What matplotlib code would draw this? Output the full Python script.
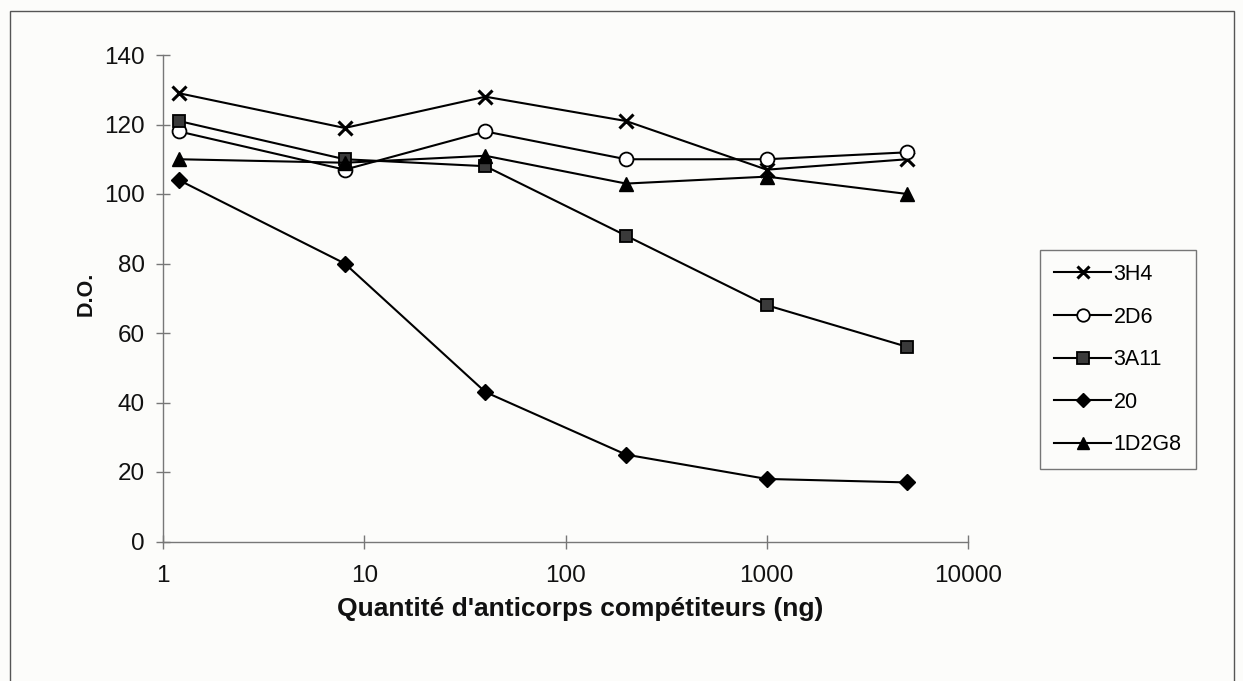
import matplotlib
matplotlib.use("Agg")
import matplotlib.pyplot as plt
from matplotlib.patches import Rectangle
from matplotlib.ticker import FixedLocator, FixedFormatter, NullLocator

plt.rcParams['font.family'] = ['Liberation Sans', 'DejaVu Sans']

quantities = [1.2, 8, 40, 200, 1000, 5000]
series_names = ["3H4", "2D6", "3A11", "20", "1D2G8"]
s_3H4 = [129, 119, 128, 121, 107, 110]
s_2D6 = [118, 107, 118, 110, 110, 112]
s_3A11 = [121, 110, 108, 88, 68, 56]
s_20 = [104, 80, 43, 25, 18, 17]
s_1D2G8 = [110, 109, 111, 103, 105, 100]
y_ticks = [0, 20, 40, 60, 80, 100, 120, 140]
x_ticks = [1, 10, 100, 1000, 10000]
x_tick_labels = ["1", "10", "100", "1000", "10000"]

W, H = 1243, 681
fig = plt.figure(figsize=(W / 100, H / 100), dpi=100)
fig.patch.set_facecolor('#fcfcfa')

# outer frame (bottom edge is cropped off in the reference)
fig.patches.append(Rectangle((10 / W, -0.05), (1234 - 10) / W, (H - 11) / H + 0.05,
                             transform=fig.transFigure, fill=False,
                             edgecolor='#555555', lw=1.0))

ax = fig.add_axes([163 / W, (H - 541.5) / H, (968 - 163) / W, (541.5 - 55) / H])
ax.set_facecolor('none')

styles = {
    "3H4": dict(marker='x', ms=10, mew=2.2, mfc='black', mec='black'),
    "2D6": dict(marker='o', ms=10, mew=1.3, mfc='white', mec='black'),
    "3A11": dict(marker='s', ms=9, mew=1.3, mfc='#3a3a3a', mec='black'),
    "20": dict(marker='D', ms=8, mew=1.0, mfc='black', mec='black'),
    "1D2G8": dict(marker='^', ms=10, mew=1.0, mfc='black', mec='black'),
}
data = [s_3H4, s_2D6, s_3A11, s_20, s_1D2G8]
for name, vals in zip(series_names, data):
    ax.plot(quantities, vals, color='black', lw=1.5, label=name, **styles[name])

ax.set_xscale('log')
ax.set_xlim(1, 10000)
ax.set_ylim(0, 140)
ax.xaxis.set_major_locator(FixedLocator(x_ticks))
ax.xaxis.set_major_formatter(FixedFormatter(x_tick_labels))
ax.xaxis.set_minor_locator(NullLocator())
ax.set_yticks(y_ticks)
ax.set_yticklabels([str(v) for v in y_ticks])

for side in ['top', 'right']:
    ax.spines[side].set_visible(False)
for side in ['left', 'bottom']:
    ax.spines[side].set_color('#777777')
    ax.spines[side].set_linewidth(1.0)
ax.tick_params(axis='both', direction='inout', length=10, width=1.0, color='#777777',
               labelsize=17.5, labelcolor='#111111')
ax.tick_params(axis='x', pad=12)
ax.tick_params(axis='y', pad=8)

ax.set_xlabel("Quantité d'anticorps compétiteurs (ng)", fontsize=19, fontweight='bold',
              color='#111111')
ax.xaxis.set_label_coords(0.518, -0.115)
ax.set_ylabel("D.O.", fontsize=15.5, fontweight='bold', color='#111111')
ax.yaxis.set_label_coords(-0.082, 0.51)

leg = ax.legend(loc='upper left', bbox_to_anchor=(1040 / W, (H - 250) / H),
                bbox_transform=fig.transFigure, fontsize=15.5, frameon=True,
                fancybox=False, edgecolor='#555555', facecolor='none',
                handlelength=2.65, handletextpad=0.12, labelspacing=1.0,
                borderpad=0.65, borderaxespad=0, markerscale=0.9)
leg.get_frame().set_linewidth(1.0)

fig.savefig("out.png", dpi=100, facecolor=fig.get_facecolor())
